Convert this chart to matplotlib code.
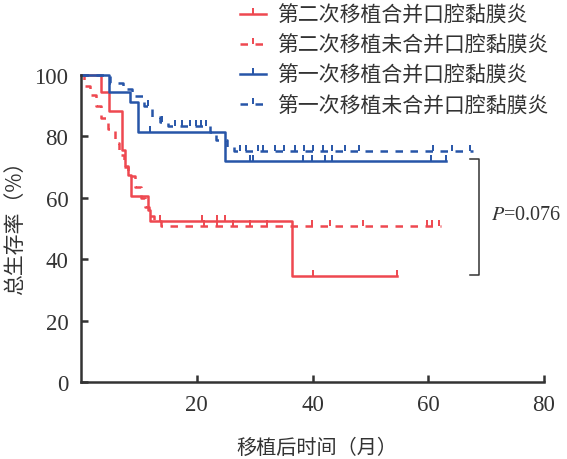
import matplotlib
matplotlib.use("Agg")
import matplotlib.pyplot as plt
from matplotlib.lines import Line2D
import numpy as np

plt.rcParams['mathtext.fontset'] = 'stix'

# Kaplan-Meier step points (months, survival %)
red_solid_t = [0, 3.4, 4.9, 7.0, 7.6, 8.1, 8.7, 11.6, 11.9, 36.5, 54.6]
red_solid_s = [100, 94.4, 88.4, 75.5, 70.5, 67.5, 60.5, 56.0, 52.5, 34.4, 34.4]
red_solid_cens = [20.9, 23.5, 24.9, 40.0, 54.6]

red_dash_t = [0, 0.6, 1.6, 2.6, 3.4, 4.6, 5.8, 6.6, 7.4, 8.2, 9.4, 10.4, 11.0, 11.8, 12.6, 13.8, 62.2]
red_dash_s = [100, 96.5, 93.5, 90.0, 86.0, 82.5, 78.0, 74.0, 70.0, 67.0, 63.5, 60.0, 57.0, 54.0, 52.5, 50.9, 50.9]
red_dash_cens = [13.7, 21.2, 23.5, 26.3, 29.2, 32.1, 39.9, 43.1, 48.8, 59.8, 60.7, 61.8]

blue_solid_t = [0, 4.9, 8.5, 9.9, 24.9, 63.0]
blue_solid_s = [100, 94.5, 91.1, 81.3, 72.1, 72.1]
blue_solid_cens = [12.0, 29.2, 29.8, 38.4, 39.9, 42.2, 43.4, 60.4, 63.0]

blue_dash_t = [0, 5.0, 7.3, 8.8, 10.8, 12.2, 13.7, 15.1, 22.3, 23.4, 25.3, 26.5, 67.8]
blue_dash_s = [100, 97.5, 95.5, 93.3, 90.0, 86.2, 84.6, 83.3, 81.4, 78.8, 76.5, 75.3, 75.3]
blue_dash_cens = [11.5, 14.0, 16.3, 17.5, 18.8, 19.8, 20.8, 21.6, 27.5, 28.5, 30.5, 31.5,
                  33.6, 35.0, 37.0, 38.5, 40.1, 41.8, 43.4, 45.7, 48.0, 60.8, 64.1, 67.3]

labels = ["第二次移植合并口腔黏膜炎", "第二次移植未合并口腔黏膜炎",
          "第一次移植合并口腔黏膜炎", "第一次移植未合并口腔黏膜炎"]
p_text = "$P$=0.076"

RED = '#ee4850'
BLUE = '#2755a8'
DARK = '#333333'
cjk = ['Noto Sans CJK SC', 'DejaVu Sans']
serif = 'Liberation Serif'


def step_value(t, s, c):
    i = np.searchsorted(t, c, side='right') - 1
    return np.array(s)[i]


fig = plt.figure(figsize=(5.67, 4.60), dpi=100)
ax = fig.add_axes([81 / 567, 77 / 460, 463 / 567, 307 / 460])

series = [
    (red_solid_t, red_solid_s, red_solid_cens, RED, '-'),
    (red_dash_t, red_dash_s, red_dash_cens, RED, '--'),
    (blue_solid_t, blue_solid_s, blue_solid_cens, BLUE, '-'),
    (blue_dash_t, blue_dash_s, blue_dash_cens, BLUE, '--'),
]

handles = []
for t, s, cens, col, ls in series:
    line, = ax.step(t, s, where='post', color=col, lw=1.8, clip_on=False)
    if ls == '--':
        line.set_dashes((3, 3))
    ax.plot(cens, step_value(t, s, cens), linestyle='none', marker=2,
            markersize=4, mew=1.4, color=col, clip_on=False)
    h = Line2D([], [], color=col, lw=1.8, marker=2, markersize=4, mew=1.4)
    if ls == '--':
        h.set_dashes((3, 3))
    handles.append(h)

# bracket and P value
bx0, bx1 = 67.3, 68.7
btop, bbot = 72.5, 34.8
ax.plot([bx0, bx1, bx1, bx0], [btop, btop, bbot, bbot], color=DARK, lw=1.1)
ax.text(70.8, 54.7, p_text, fontsize=14.5, family=serif, color=DARK, va='center', ha='left')

ax.set_xlim(0, 80)
ax.set_ylim(0, 100)
ax.set_xticks([20, 40, 60, 80])
ax.set_yticks([0, 20, 40, 60, 80, 100])
for sp in ['top', 'right']:
    ax.spines[sp].set_visible(False)
for sp in ['left', 'bottom']:
    ax.spines[sp].set_linewidth(1.8)
    ax.spines[sp].set_color(DARK)
ax.tick_params(direction='in', length=5, width=1.8, color=DARK, labelcolor=DARK,
               labelsize=16.5, pad=9)
for lab in ax.get_xticklabels() + ax.get_yticklabels():
    lab.set_family(serif)

leg = ax.legend(handles, labels, loc='upper left', bbox_to_anchor=(240 / 567, 1 - 5 / 460),
                bbox_transform=fig.transFigure, frameon=False, prop={'family': cjk, 'size': 15},
                handlelength=1.25, handletextpad=0.55, labelspacing=0.39, borderpad=0,
                borderaxespad=0, numpoints=1)
for txt in leg.get_texts():
    txt.set_color(DARK)

fig.text(15 / 567, 1 - 223 / 460, "总生存率（%）", rotation=90, ha='center', va='center',
         fontsize=15, family=cjk, color=DARK)
fig.text(317 / 567, 1 - 448 / 460, "移植后时间（月）", ha='center', va='center',
         fontsize=14.5, family=cjk, color=DARK)

fig.savefig("out.png", dpi=100)
